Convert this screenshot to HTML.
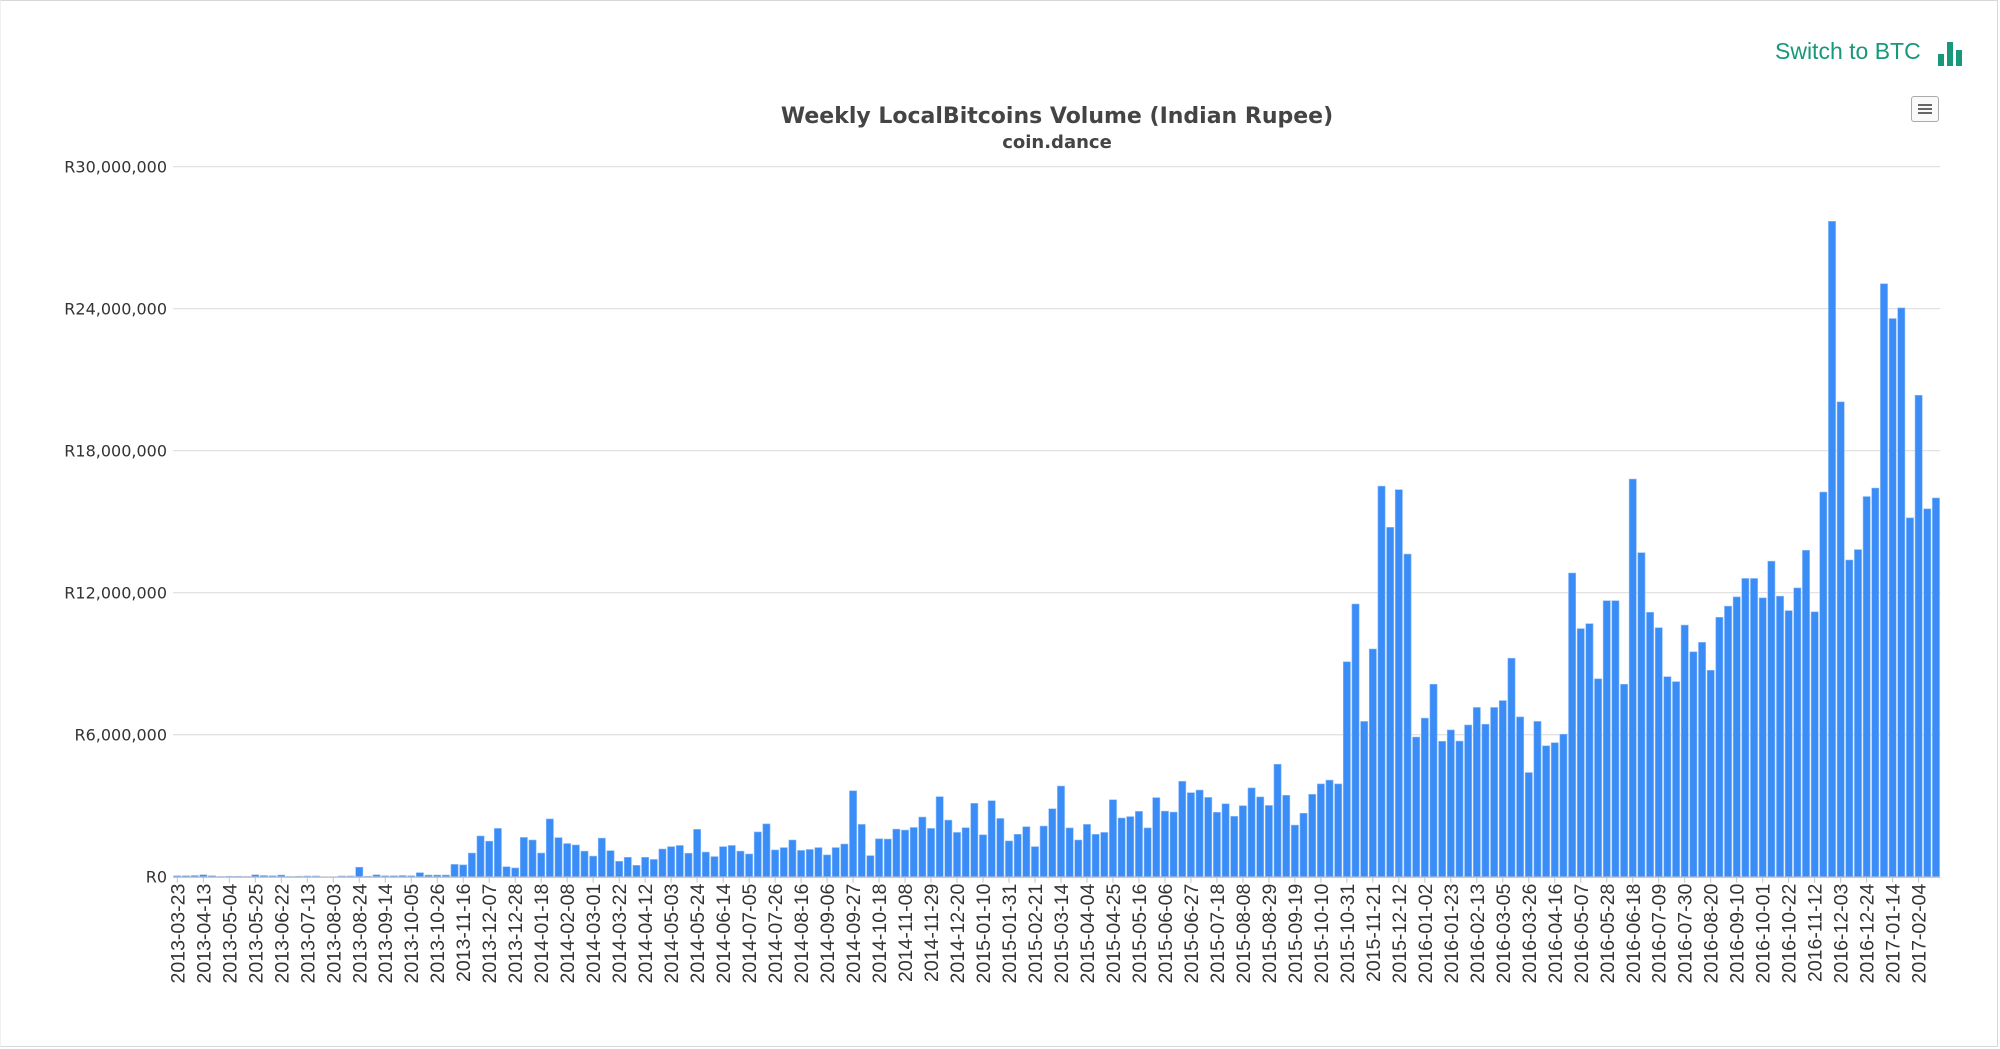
<!DOCTYPE html>
<html><head><meta charset="utf-8">
<style>
html,body{margin:0;padding:0;background:#fff;}
#wrap{position:relative;width:2000px;height:1049px;overflow:hidden;font-family:"Liberation Sans",sans-serif;}
#frame{position:absolute;left:0;top:0;width:1996px;height:1045px;border:1px solid #d8d8d8;border-left-color:#f0f0f0;}
#switch{position:absolute;left:1775px;top:38px;font-size:23px;color:#17987a;cursor:pointer;}
#menu{position:absolute;left:1911px;top:96px;width:26px;height:24px;border:1px solid #aaa;border-radius:3px;background:#fafafa;}
#menu span{position:absolute;left:6px;width:14px;height:2px;background:#666;}
</style></head>
<body>
<div id="wrap">
<div id="frame"></div>
<div id="switch">Switch to BTC
<svg width="30" height="26" style="position:absolute;left:163px;top:2px"><rect x="0" y="14" width="6" height="12" fill="#17987a"/><rect x="9" y="2" width="6" height="24" fill="#17987a"/><rect x="18" y="10" width="6" height="16" fill="#17987a"/></svg></div>
<div id="menu"><span style="top:7px"></span><span style="top:11px"></span><span style="top:15px"></span></div>
<svg id="chart" width="2000" height="1049" style="position:absolute;left:0;top:0">
<text x="1057" y="123" text-anchor="middle" font-size="22" font-weight="bold" fill="#444" font-family="DejaVu Sans, sans-serif">Weekly LocalBitcoins Volume (Indian Rupee)</text>
<text x="1057" y="148" text-anchor="middle" font-size="18" font-weight="bold" fill="#444" font-family="DejaVu Sans, sans-serif">coin.dance</text>
</svg>
</div>
<script>
const values = [
0.04,0.04,0.05,0.08,0.04,0.01,0.02,0.02,0.01,0.08,0.05,0.04,0.07,0.01,0.02,0.03,0.03,0.0,0.0,0.03,0.03,0.4,
0.02,0.08,0.04,0.04,0.05,0.04,0.17,0.07,0.07,0.07,
0.52,0.5,1.0,1.72,1.5,2.04,0.42,0.37,1.66,1.55,1.0,2.44,1.65,1.4,1.34,1.08,0.87,1.63,1.1,0.65,0.82,
0.48,0.82,0.73,1.17,1.27,1.32,0.99,2.0,1.04,0.85,1.27,1.32,1.08,0.96,1.89,2.23,1.13,1.23,1.55,1.11,1.15,1.23,0.92,1.23,1.38,3.63,2.21,0.89,1.6,1.59,2.01,1.97,2.08,2.52,2.04,3.38,2.39,1.87,2.07,3.1,1.77,3.21,2.46,1.51,1.79,2.11,1.27,2.14,2.87,3.83,2.06,1.55,
2.21,1.79,1.87,3.25,2.48,2.54,2.76,2.06,3.34,2.77,2.73,4.03,3.55,3.66,3.35,2.72,3.08,2.55,3.0,3.75,3.37,3.01,4.75,3.44,2.18,2.68,3.48,3.92,4.08,3.92,9.08,11.52,6.56,9.62,16.5,14.76,16.35,13.63,5.9,6.7,8.13,5.72,6.2,5.73,6.41,7.15,6.44,7.15,7.44,9.23,6.75,
4.4,6.56,5.53,5.66,6.02,12.83,10.48,10.69,8.36,11.66,11.66,8.13,16.8,13.69,11.17,10.52,8.45,8.24,10.63,9.5,9.9,8.72,10.96,11.43,11.82,12.6,12.6,11.78,13.33,11.85,11.24,12.2,13.79,11.19,16.25,27.69,20.06,13.38,13.82,16.06,16.42,25.05,23.58,24.03,15.16,20.34,15.54,16.0
];
const tickLabels = ["2013-03-23","2013-04-13","2013-05-04","2013-05-25","2013-06-22","2013-07-13","2013-08-03","2013-08-24","2013-09-14","2013-10-05","2013-10-26","2013-11-16","2013-12-07","2013-12-28","2014-01-18","2014-02-08","2014-03-01","2014-03-22","2014-04-12","2014-05-03","2014-05-24","2014-06-14","2014-07-05","2014-07-26","2014-08-16","2014-09-06","2014-09-27","2014-10-18","2014-11-08","2014-11-29","2014-12-20","2015-01-10","2015-01-31","2015-02-21","2015-03-14","2015-04-04","2015-04-25","2015-05-16","2015-06-06","2015-06-27","2015-07-18","2015-08-08","2015-08-29","2015-09-19","2015-10-10","2015-10-31","2015-11-21","2015-12-12","2016-01-02","2016-01-23","2016-02-13","2016-03-05","2016-03-26","2016-04-16","2016-05-07","2016-05-28","2016-06-18","2016-07-09","2016-07-30","2016-08-20","2016-09-10","2016-10-01","2016-10-22","2016-11-12","2016-12-03","2016-12-24","2017-01-14","2017-02-04"];
const yTicks = [0,6,12,18,24,30];
const yTickLabels = ["R0","R6,000,000","R12,000,000","R18,000,000","R24,000,000","R30,000,000"];

const NS="http://www.w3.org/2000/svg";
const svg=document.getElementById('chart');
const L=173, R=1940.3, Y0=876.7, YT=166.6, YMAX=30;
const band=(R-L)/values.length;
const x=i=>L+band*(i+0.5);
const y=v=>Y0-(v/YMAX)*(Y0-YT);
function mk(t,a){const e=document.createElementNS(NS,t);for(const k in a)e.setAttribute(k,a[k]);svg.appendChild(e);return e;}
yTicks.forEach((t,i)=>{
  if(t>0){const g=mk('line',{x1:L,x2:R,y1:y(t),y2:y(t),stroke:'#e2e2e2','stroke-width':1.3});
  
  }
  const tx=mk('text',{x:167,y:y(t)+6,'text-anchor':'end','font-size':16,fill:'#333','font-family':'DejaVu Sans, sans-serif'});
  tx.textContent=yTickLabels[i];
  
  
});
values.forEach((v,i)=>{
  const h=Y0-y(v);
  const b=mk('rect',{x:x(i)-3.6,y:y(v),width:7.2,height:Math.max(h,0.3),fill:'#3a8cf6',stroke:'#8dbcf9','stroke-width':0.6});
  
  
});
const ax=mk('line',{x1:L,x2:R,y1:Y0+0.5,y2:Y0+0.5,stroke:'#c0c0c0','stroke-width':1.3});


tickLabels.forEach((lab,k)=>{
  const i=k*3;
  const cx=x(i);
  const tk=mk('line',{x1:cx,x2:cx,y1:Y0,y2:Y0+6,stroke:'#c0c0c0'});
  
  
  const t=mk('text',{x:0,y:0,'text-anchor':'end','font-size':19.5,fill:'#333','font-family':'Liberation Sans, sans-serif',transform:`translate(${cx+7},${Y0+7}) rotate(-90)`});
  t.textContent=lab;
  
  
});
</script>
</body></html>
